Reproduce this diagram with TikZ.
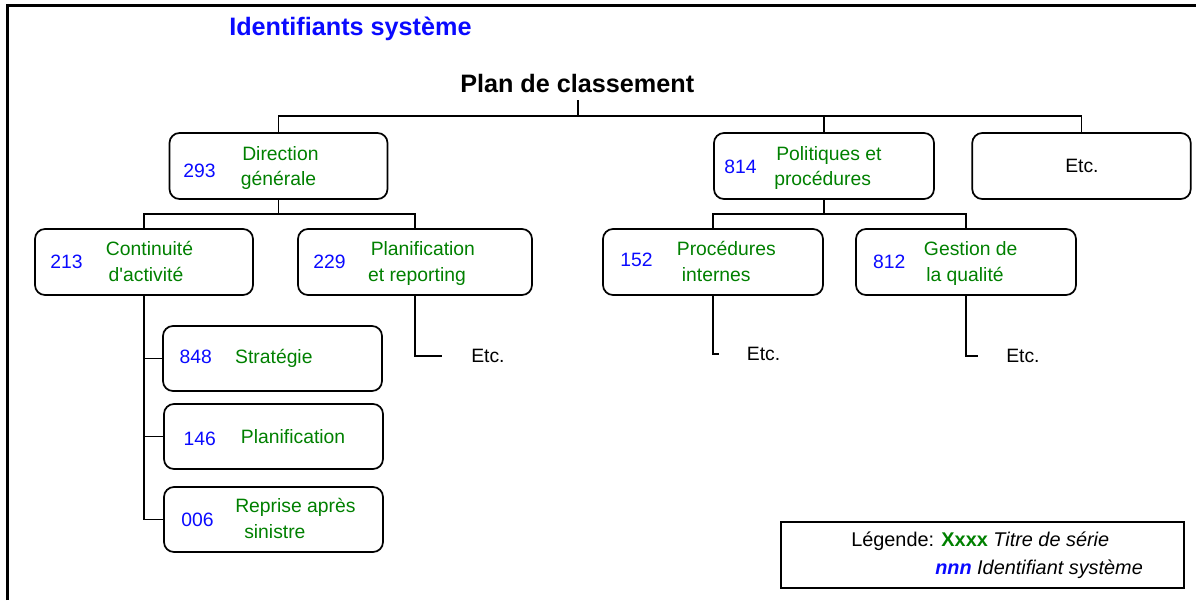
\documentclass[tikz,border=0pt]{standalone}
\usepackage{fontspec}
\setmainfont{Liberation Sans}
\definecolor{sergreen}{RGB}{0,128,0}
\definecolor{idblue}{RGB}{10,10,255}
\tikzset{
  frame/.style={line width=2.25pt},
  link/.style={line width=1.4pt},
  box/.style={draw, line width=1.3pt, rounded corners=7.5pt, inner sep=0pt, outer sep=0pt},
  boxsize/.style 2 args={minimum width={#1*0.75pt}, minimum height={#2*0.75pt}},
  heading/.style={inner sep=0pt, anchor=base west, font=\fontsize{18.9}{22}\selectfont\bfseries},
  txt/.style={inner sep=0pt, anchor=base west, font=\fontsize{14.5}{17}\selectfont},
  legtxt/.style={inner sep=0pt, anchor=base west, font=\fontsize{14.9}{17}\selectfont},
  num/.style={txt, text=idblue},
  ser/.style={txt, text=sergreen},
  plain/.style={txt, text=black}
}
\begin{document}
\begin{tikzpicture}[x=0.75pt,y=-0.75pt]
\useasboundingbox (0,0) rectangle (1196,600);
\draw[frame] (7.5,600) -- (7.5,5) -- (1196,5);

% headings
\node[heading, text=idblue] (sysid) at (229,35.7) {Identifiants système};
\node[heading] (plan) at (460,92) {Plan de classement};

% first level
\node[box, boxsize={218}{66}] (dg) at (278.5,166) {};
\node[box, boxsize={220}{66}] (pp) at (824,166) {};
\node[box, boxsize={218.5}{66}] (etc0) at (1081.5,166) {};

% second level
\node[box, boxsize={218}{66}] (ca) at (144,262) {};
\node[box, boxsize={234}{66}] (pr) at (415,262) {};
\node[box, boxsize={220}{66}] (pi) at (713,262) {};
\node[box, boxsize={220}{66}] (gq) at (966,262) {};

% third level
\node[box, boxsize={219}{65}] (st) at (272.5,358.5) {};
\node[box, boxsize={219}{65}] (pl) at (273.5,436.5) {};
\node[box, boxsize={219}{65}] (rs) at (273.5,519.5) {};

% box labels
\node[num] (n293) at (183,177) {293};
\node[ser] (t293a) at (242,160) {Direction};
\node[ser] (t293b) at (240.6,185) {générale};

\node[num] (n814) at (724,173) {814};
\node[ser] (t814a) at (776,160) {Politiques et};
\node[ser] (t814b) at (774,185) {procédures};

\node[plain] (tetc0) at (1065,172.3) {Etc.};

\node[num] (n213) at (50,268) {213};
\node[ser] (t213a) at (105.7,255) {Continuité};
\node[ser] (t213b) at (108.4,281) {d\textquotesingle activité};

\node[num] (n229) at (313,268) {229};
\node[ser] (t229a) at (370.5,255) {Planification};
\node[ser] (t229b) at (367.8,281) {et reporting};

\node[num] (n152) at (620,266.7) {152};
\node[ser] (t152a) at (676.6,255) {Procédures};
\node[ser] (t152b) at (681.6,281) {internes};

\node[num] (n812) at (872.8,268) {812};
\node[ser] (t812a) at (923.7,255) {Gestion de};
\node[ser] (t812b) at (926,281) {la qualité};

\node[num] (n848) at (179.3,363) {848};
\node[ser] (t848) at (234.9,363) {Stratégie};

\node[num] (n146) at (183.3,445) {146};
\node[ser] (t146) at (240.7,443) {Planification};

\node[num] (n006) at (181,526) {006};
\node[ser] (t006a) at (235,512) {Reprise après};
\node[ser] (t006b) at (244,538) {sinistre};

% loose leaves
\node[plain] (etcA) at (471,362) {Etc.};
\node[plain] (etcB) at (746.7,360) {Etc.};
\node[plain] (etcC) at (1006,362) {Etc.};

% connectors
\coordinate (plantail) at (578,100);
\coordinate (rootbar) at (578,116);
\draw[link] (plantail) -- (rootbar);
\draw[link] (dg.north) |- (rootbar);
\draw[link] (pp.north) |- (rootbar);
\draw[link] (etc0.north) |- (rootbar);

\coordinate (dgbar) at (dg.south |- 0,214);
\draw[link] (dg.south) -- (dgbar);
\draw[link] (ca.north) |- (dgbar);
\draw[link] (pr.north) |- (dgbar);

\coordinate (ppbar) at (pp.south |- 0,214);
\draw[link] (pp.south) -- (ppbar);
\draw[link] (pi.north) |- (ppbar);
\draw[link] (gq.north) |- (ppbar);

\draw[link] (ca.south) |- (rs.west);
\draw[link] (st.west) -- (st.west -| ca.south);
\draw[link] (pl.west) -- (pl.west -| ca.south);

\coordinate (prend) at (442,356);
\coordinate (piend) at (719,354);
\coordinate (gqend) at (978,356);
\draw[link] (pr.south) |- (prend);
\draw[link] (pi.south) |- (piend);
\draw[link] (gq.south) |- (gqend);

% legend
\node[draw, line width=1.1pt, inner sep=0pt, boxsize={403}{66}] (leg) at (982.5,555) {};
\node[legtxt] (leg1) at (851,546.7) {Légende: \textcolor{sergreen}{\bfseries Xxxx} \itshape Titre de série};
\node[legtxt] (leg2) at (935,574) {\textcolor{idblue}{\bfseries\itshape nnn} \itshape Identifiant système};
\end{tikzpicture}
\end{document}
